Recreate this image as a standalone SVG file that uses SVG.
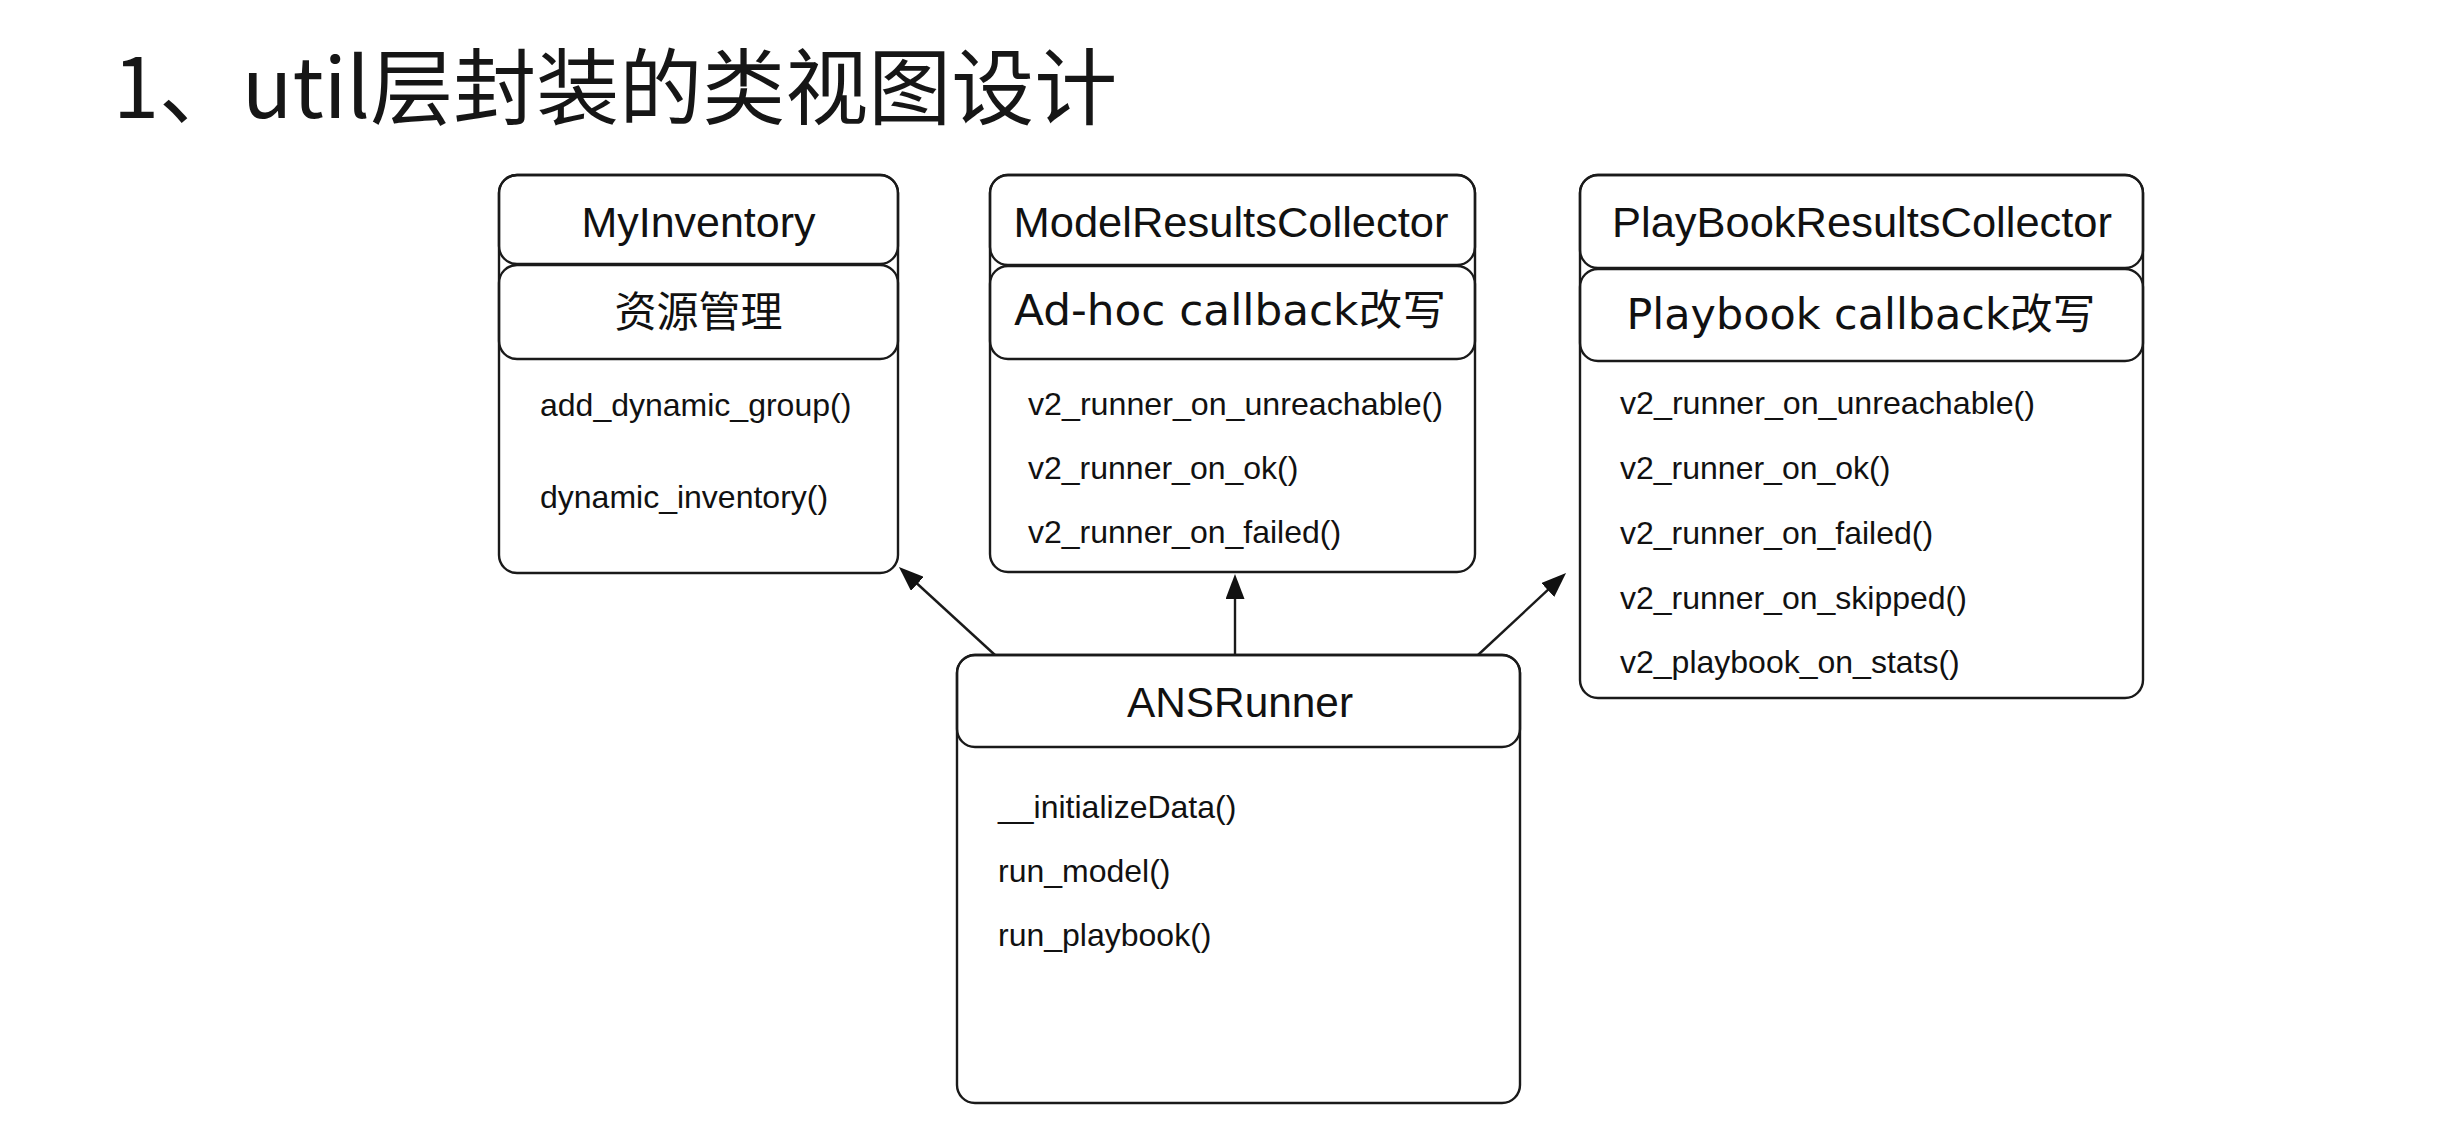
<svg xmlns="http://www.w3.org/2000/svg" width="2452" height="1142" viewBox="0 0 2452 1142">
<style>
.box{fill:none;stroke:#1a1a1a;stroke-width:2.4}
.title{font-family:"Liberation Sans",Arial,sans-serif;font-size:43px;fill:#111;text-anchor:middle}
.sub{font-family:"DejaVu Sans","Noto Sans CJK SC",sans-serif;font-size:42px;fill:#111;text-anchor:middle}
.m{font-family:"Liberation Sans",Arial,sans-serif;font-size:32px;fill:#111}
.head{font-family:"Noto Sans CJK SC","Noto Sans",sans-serif;font-size:83px;fill:#161616}
.conn{stroke:#1a1a1a;stroke-width:2.4;fill:none}
</style>
<defs>
<marker id="arr" viewBox="0 0 25 19" refX="5" refY="9.5" markerWidth="25" markerHeight="19" markerUnits="userSpaceOnUse" orient="auto">
<path d="M0,0 L25,9.5 L0,19 Z" fill="#111"/>
</marker>
</defs>
<rect width="2452" height="1142" fill="#fff"/>
<text class="head" x="113" y="118">1、util层封装的类视图设计</text>

<g id="MyInventory">
<rect class="box" x="499" y="175" width="399" height="398" rx="18"/>
<rect class="box" x="499" y="175" width="399" height="89" rx="18"/>
<rect class="box" x="499" y="265" width="399" height="94" rx="18"/>
<text class="title" x="698.5" y="237" textLength="234" lengthAdjust="spacingAndGlyphs">MyInventory</text>
<text class="sub" x="698.5" y="327">资源管理</text>
<text class="m" x="540" y="416">add_dynamic_group()</text>
<text class="m" x="540" y="508">dynamic_inventory()</text>
</g>

<g id="ModelResultsCollector">
<rect class="box" x="990" y="175" width="485" height="397" rx="18"/>
<rect class="box" x="990" y="175" width="485" height="90" rx="18"/>
<rect class="box" x="990" y="266" width="485" height="93" rx="18"/>
<text class="title" x="1231" y="237" textLength="435" lengthAdjust="spacingAndGlyphs">ModelResultsCollector</text>
<text class="sub" x="1230" y="325" textLength="432" lengthAdjust="spacingAndGlyphs">Ad-hoc callback改写</text>
<text class="m" x="1028" y="415" textLength="415" lengthAdjust="spacingAndGlyphs">v2_runner_on_unreachable()</text>
<text class="m" x="1028" y="479">v2_runner_on_ok()</text>
<text class="m" x="1028" y="543">v2_runner_on_failed()</text>
</g>

<g id="PlayBookResultsCollector">
<rect class="box" x="1580" y="175" width="563" height="523" rx="18"/>
<rect class="box" x="1580" y="175" width="563" height="93" rx="18"/>
<rect class="box" x="1580" y="269" width="563" height="92" rx="18"/>
<text class="title" x="1862" y="237" textLength="500" lengthAdjust="spacingAndGlyphs">PlayBookResultsCollector</text>
<text class="sub" x="1861" y="329" textLength="469" lengthAdjust="spacingAndGlyphs">Playbook callback改写</text>
<text class="m" x="1620" y="414" textLength="415" lengthAdjust="spacingAndGlyphs">v2_runner_on_unreachable()</text>
<text class="m" x="1620" y="479">v2_runner_on_ok()</text>
<text class="m" x="1620" y="544">v2_runner_on_failed()</text>
<text class="m" x="1620" y="609">v2_runner_on_skipped()</text>
<text class="m" x="1620" y="673">v2_playbook_on_stats()</text>
</g>

<g id="ANSRunner">
<rect class="box" x="957" y="655" width="563" height="448" rx="18"/>
<rect class="box" x="957" y="655" width="563" height="92" rx="18"/>
<text class="title" x="1240" y="717" textLength="226" lengthAdjust="spacingAndGlyphs">ANSRunner</text>
<text class="m" x="998" y="818">__initializeData()</text>
<text class="m" x="998" y="882">run_model()</text>
<text class="m" x="998" y="946">run_playbook()</text>
</g>

<g id="connectors">
<line class="conn" x1="995" y1="655" x2="913.7" y2="580.5" marker-end="url(#arr)"/>
<line class="conn" x1="1235" y1="655" x2="1235" y2="594" marker-end="url(#arr)"/>
<line class="conn" x1="1478" y1="655" x2="1551.4" y2="586.6" marker-end="url(#arr)"/>
</g>
</svg>
